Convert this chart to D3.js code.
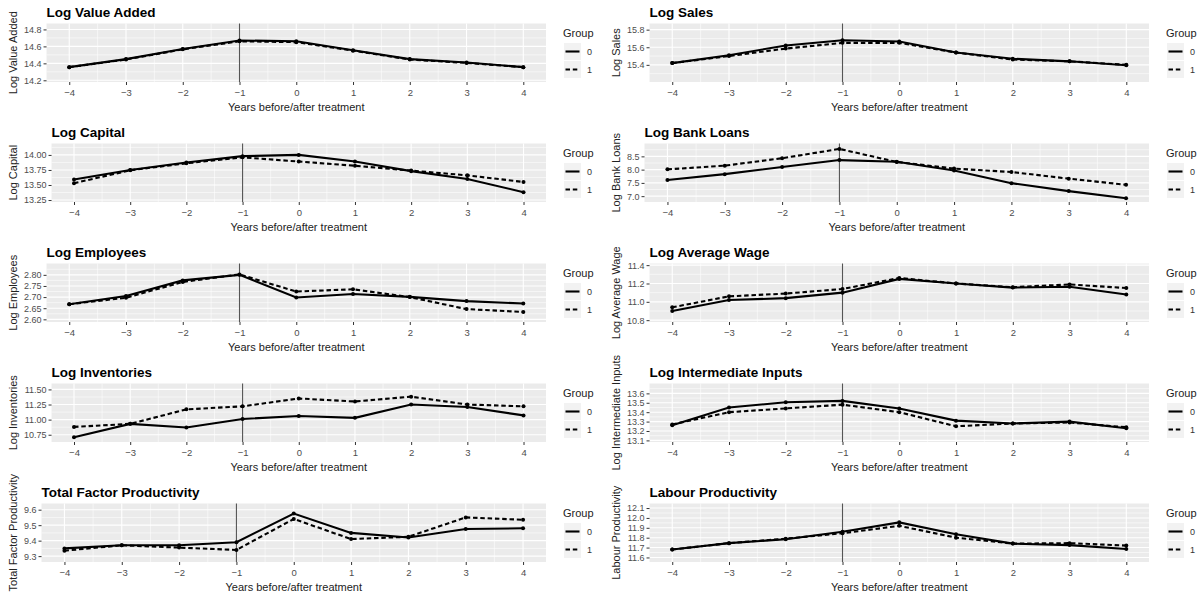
<!DOCTYPE html>
<html><head><meta charset="utf-8">
<script src="https://cdn.jsdelivr.net/npm/d3@7/dist/d3.min.js"></script>
<style>
html,body{margin:0;padding:0;background:#fff;}
svg{display:block;font-family:"Liberation Sans",Arial,sans-serif;}
</style></head>
<body><svg id="c" width="1203" height="601"></svg>
<script>
const years = [-4, -3, -2, -1, 0, 1, 2, 3, 4];
const groups = ["0", "1"];
const xLabel = "Years before/after treatment";

const valueAdded0 = [14.355, 14.45, 14.57, 14.67, 14.66, 14.555, 14.45, 14.41, 14.355];
const valueAdded1 = [14.355, 14.445, 14.565, 14.66, 14.65, 14.55, 14.445, 14.405, 14.355];
const valueAddedTicks = [14.2, 14.4, 14.6, 14.8];
const valueAddedDomain = [14.18, 14.87];

const sales0 = [15.42, 15.51, 15.62, 15.68, 15.665, 15.54, 15.47, 15.44, 15.395];
const sales1 = [15.42, 15.50, 15.585, 15.65, 15.65, 15.54, 15.46, 15.44, 15.40];
const salesTicks = [15.4, 15.6, 15.8];
const salesDomain = [15.205, 15.87];

const capital0 = [13.59, 13.75, 13.875, 13.98, 14.00, 13.89, 13.73, 13.60, 13.38];
const capital1 = [13.53, 13.745, 13.86, 13.96, 13.89, 13.82, 13.74, 13.66, 13.55];
const capitalTicks = [13.25, 13.50, 13.75, 14.00];
const capitalDomain = [13.217, 14.19];

const bankLoans0 = [7.61, 7.83, 8.10, 8.36, 8.30, 7.97, 7.49, 7.19, 6.92];
const bankLoans1 = [8.01, 8.15, 8.43, 8.78, 8.29, 8.04, 7.91, 7.66, 7.43];
const bankLoansTicks = [7.0, 7.5, 8.0, 8.5];
const bankLoansDomain = [6.78, 8.985];

const employees0 = [2.668, 2.705, 2.775, 2.800, 2.698, 2.714, 2.701, 2.682, 2.671];
const employees1 = [2.668, 2.697, 2.768, 2.802, 2.725, 2.735, 2.700, 2.646, 2.633];
const employeesTicks = [2.60, 2.65, 2.70, 2.75, 2.80];
const employeesDomain = [2.588, 2.851];

const wage0 = [10.90, 11.02, 11.04, 11.10, 11.25, 11.20, 11.155, 11.165, 11.08];
const wage1 = [10.94, 11.06, 11.09, 11.14, 11.26, 11.20, 11.16, 11.19, 11.15];
const wageTicks = [10.8, 11.0, 11.2, 11.4];
const wageDomain = [10.78, 11.418];

const inventories0 = [10.71, 10.93, 10.87, 11.01, 11.06, 11.03, 11.25, 11.21, 11.07];
const inventories1 = [10.88, 10.93, 11.17, 11.22, 11.35, 11.30, 11.38, 11.25, 11.22];
const inventoriesTicks = [10.75, 11.00, 11.25, 11.50];
const inventoriesDomain = [10.63, 11.598];

const inputs0 = [13.26, 13.45, 13.505, 13.52, 13.44, 13.31, 13.28, 13.30, 13.23];
const inputs1 = [13.27, 13.40, 13.44, 13.48, 13.40, 13.25, 13.28, 13.29, 13.24];
const inputsTicks = [13.1, 13.2, 13.3, 13.4, 13.5, 13.6];
const inputsDomain = [13.083, 13.705];

const tfp0 = [9.35, 9.37, 9.37, 9.39, 9.575, 9.45, 9.42, 9.475, 9.48];
const tfp1 = [9.335, 9.37, 9.355, 9.34, 9.54, 9.41, 9.425, 9.55, 9.535];
const tfpTicks = [9.3, 9.4, 9.5, 9.6];
const tfpDomain = [9.262, 9.64];

const labour0 = [11.68, 11.745, 11.785, 11.86, 11.955, 11.835, 11.74, 11.725, 11.685];
const labour1 = [11.68, 11.745, 11.79, 11.845, 11.92, 11.80, 11.74, 11.745, 11.72];
const labourTicks = [11.6, 11.7, 11.8, 11.9, 12.0, 12.1];
const labourDomain = [11.554, 12.146];

const panels = [
  {title: "Log Value Added", g0: valueAdded0, g1: valueAdded1, ticks: valueAddedTicks, domain: valueAddedDomain, fmt: ".1f"},
  {title: "Log Sales", g0: sales0, g1: sales1, ticks: salesTicks, domain: salesDomain, fmt: ".1f"},
  {title: "Log Capital", g0: capital0, g1: capital1, ticks: capitalTicks, domain: capitalDomain, fmt: ".2f"},
  {title: "Log Bank Loans", g0: bankLoans0, g1: bankLoans1, ticks: bankLoansTicks, domain: bankLoansDomain, fmt: ".1f"},
  {title: "Log Employees", g0: employees0, g1: employees1, ticks: employeesTicks, domain: employeesDomain, fmt: ".2f"},
  {title: "Log Average Wage", g0: wage0, g1: wage1, ticks: wageTicks, domain: wageDomain, fmt: ".1f"},
  {title: "Log Inventories", g0: inventories0, g1: inventories1, ticks: inventoriesTicks, domain: inventoriesDomain, fmt: ".2f"},
  {title: "Log Intermediate Inputs", g0: inputs0, g1: inputs1, ticks: inputsTicks, domain: inputsDomain, fmt: ".1f"},
  {title: "Total Factor Productivity", g0: tfp0, g1: tfp1, ticks: tfpTicks, domain: tfpDomain, fmt: ".1f"},
  {title: "Labour Productivity", g0: labour0, g1: labour1, ticks: labourTicks, domain: labourDomain, fmt: ".1f"}
];

const svg = d3.select("#c");
const DASH = "4.5,2.8";
const tickFont = "9px";

panels.forEach((p, i) => {
  const col = i % 2, row = Math.floor(i / 2);
  const x0 = col ? 603 : 0, y0 = row * 120;
  const g = svg.append("g").attr("transform", `translate(${x0},${y0})`);
  const fmt = d3.format(p.fmt);

  const tmp = g.append("text").style("font-size", tickFont);
  let maxW = 0;
  p.ticks.forEach(t => { tmp.text(fmt(t)); maxW = Math.max(maxW, tmp.node().getComputedTextLength()); });
  tmp.remove();

  const left = 24 + maxW + 5, right = 546, top = 23.5, bottom = 82;
  const x = d3.scaleLinear().domain([-4.4, 4.4]).range([left, right]);
  const y = d3.scaleLinear().domain(p.domain).range([bottom, top]);

  g.append("rect").attr("x", left).attr("y", top).attr("width", right - left).attr("height", bottom - top).attr("fill", "#ebebeb");

  const step = p.ticks[1] - p.ticks[0];
  const yMinor = [];
  for (let k = -1; k < p.ticks.length; k++) {
    const v = p.ticks[0] + (k + 0.5) * step;
    if (v > p.domain[0] && v < p.domain[1]) yMinor.push(v);
  }
  const xMinor = years.slice(0, -1).map(d => d + 0.5);
  g.append("g").selectAll("line").data(yMinor).join("line")
    .attr("x1", left).attr("x2", right).attr("y1", d => y(d)).attr("y2", d => y(d))
    .attr("stroke", "#fff").attr("stroke-width", 0.55);
  g.append("g").selectAll("line").data(xMinor).join("line")
    .attr("y1", top).attr("y2", bottom).attr("x1", d => x(d)).attr("x2", d => x(d))
    .attr("stroke", "#fff").attr("stroke-width", 0.55);
  g.append("g").selectAll("line").data(p.ticks).join("line")
    .attr("x1", left).attr("x2", right).attr("y1", d => y(d)).attr("y2", d => y(d))
    .attr("stroke", "#fff").attr("stroke-width", 1.1);
  g.append("g").selectAll("line").data(years).join("line")
    .attr("y1", top).attr("y2", bottom).attr("x1", d => x(d)).attr("x2", d => x(d))
    .attr("stroke", "#fff").attr("stroke-width", 1.1);

  g.append("line").attr("x1", x(-1)).attr("x2", x(-1)).attr("y1", top).attr("y2", bottom)
    .attr("stroke", "#555").attr("stroke-width", 1.1);

  const line = d3.line().x((d, j) => x(years[j])).y(d => y(d));
  [p.g0, p.g1].forEach((vals, gi) => {
    g.append("path").datum(vals).attr("d", line).attr("fill", "none")
      .attr("stroke", "#000").attr("stroke-width", 2.1)
      .attr("stroke-dasharray", gi ? DASH : null);
    g.append("g").selectAll("circle").data(vals).join("circle")
      .attr("cx", (d, j) => x(years[j])).attr("cy", d => y(d)).attr("r", 2).attr("fill", "#000");
  });

  const ya = g.append("g").attr("transform", `translate(${left},0)`)
    .call(d3.axisLeft(y).tickValues(p.ticks).tickFormat(fmt).tickSize(3).tickPadding(2));
  ya.select(".domain").remove();
  ya.selectAll("line").attr("stroke", "#333");
  ya.selectAll("text").style("font-size", tickFont).attr("fill", "#4d4d4d").attr("font-family", "Liberation Sans, Arial, sans-serif");

  const xa = g.append("g").attr("transform", `translate(0,${bottom})`)
    .call(d3.axisBottom(x).tickValues(years).tickFormat(d3.format("d")).tickSize(3).tickPadding(4));
  xa.select(".domain").remove();
  xa.selectAll("line").attr("stroke", "#333");
  xa.selectAll("text").style("font-size", "9.5px").attr("fill", "#4d4d4d").attr("font-family", "Liberation Sans, Arial, sans-serif");

  g.append("text").attr("x", left).attr("y", 17).text(p.title)
    .style("font-size", "13.5px").style("font-weight", "bold").attr("fill", "#000");
  g.append("text").attr("x", (left + right) / 2).attr("y", 111).attr("text-anchor", "middle")
    .text(xLabel).style("font-size", "11px").attr("fill", "#222");
  g.append("text").attr("transform", `translate(17,${(top + bottom) / 2}) rotate(-90)`)
    .attr("text-anchor", "middle").text(p.title).style("font-size", "11px").attr("fill", "#222");

  const lg = g.append("g").attr("transform", "translate(563,0)");
  lg.append("text").attr("x", 0).attr("y", 37).text("Group").style("font-size", "11px").attr("fill", "#222");
  groups.forEach((k, gi) => {
    const ky = 43 + gi * 18;
    lg.append("rect").attr("x", 1).attr("y", ky).attr("width", 17).attr("height", 17).attr("fill", "#f2f2f2");
    lg.append("line").attr("x1", 2.5).attr("x2", 16.5).attr("y1", ky + 8.5).attr("y2", ky + 8.5)
      .attr("stroke", "#000").attr("stroke-width", 2.1).attr("stroke-dasharray", gi ? DASH : null);
    lg.append("text").attr("x", 24).attr("y", ky + 12).text(k).style("font-size", "9px").attr("fill", "#333");
  });
});
</script>
</body></html>
